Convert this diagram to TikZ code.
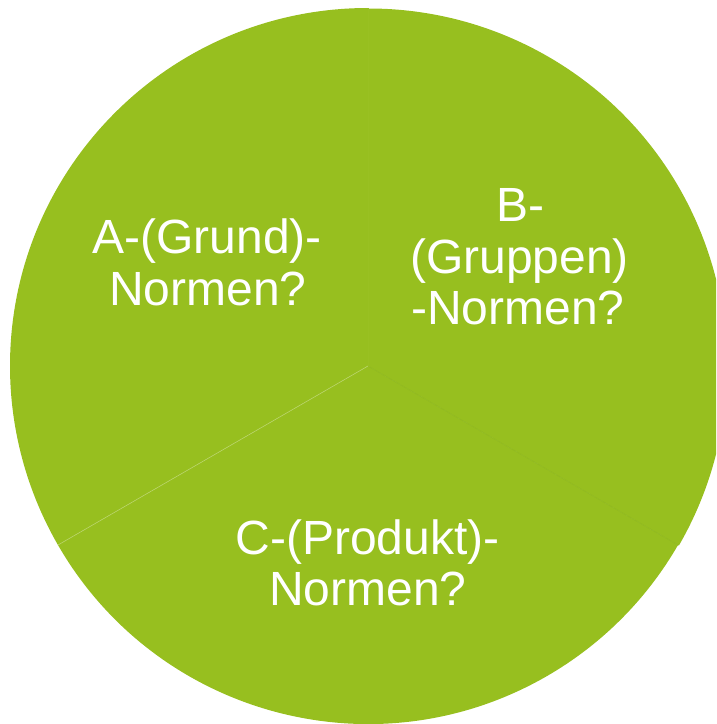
\documentclass[tikz,border=0pt]{standalone}
\usepackage{fontspec}
\setmainfont{Liberation Sans}
\definecolor{pie}{RGB}{151,191,31}
\definecolor{edgelight}{RGB}{185,212,105}
\definecolor{edgedark}{RGB}{143,184,30}
\definecolor{edgefaint}{RGB}{153,192,34}
\tikzset{
  lbl/.style={text=white, font=\fontsize{48}{52}\selectfont, anchor=base, inner sep=0pt},
  sector/.style={fill=pie, draw=none}
}
\begin{document}
\begin{tikzpicture}[x=1pt,y=-1pt]
\useasboundingbox (0,0) rectangle (716,724);
\clip (0,0) rectangle (716,724);
\coordinate (c) at (368,366);
% sectors (y axis points down, so angles run clockwise on screen)
\fill[sector] (c) -- ++(-90:358) arc[start angle=-90, end angle=-210, radius=358] -- cycle; % A
\fill[sector] (c) -- ++(150:358) arc[start angle=150, end angle=30, radius=358] -- cycle; % C
\fill[sector] (c) -- ++(30:359) arc[start angle=30, end angle=-90, radius=358] -- cycle; % B
% edges
\draw[edgelight, line width=0.6pt] (c) -- ++(150:358);
\draw[edgedark, line width=0.6pt] (c) -- ++(30:358);
\draw[edgefaint, line width=0.4pt] (c) -- ++(-90:358);
% labels
\node[lbl] (a1) at (207,253) {A-(Grund)-};
\node[lbl] (a2) at (208,305) {Normen?};
\node[lbl] (b1) at (520,221) {B-};
\node[lbl] (b2) at (519.5,273) {(Gruppen)};
\node[lbl] (b3) at (518,324) {-Normen?};
\node[lbl] (c1) at (367.5,554) {C-(Produkt)-};
\node[lbl] (c2) at (368,605) {Normen?};
\end{tikzpicture}
\end{document}
